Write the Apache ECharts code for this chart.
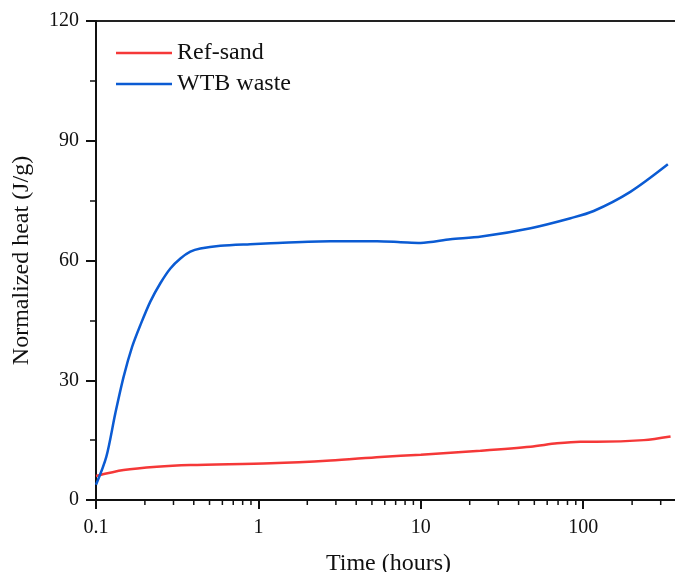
<!DOCTYPE html>
<html>
<head>
<meta charset="utf-8">
<script src="https://cdn.jsdelivr.net/npm/echarts@6/dist/echarts.min.js"></script>
<style>
  html, body { margin: 0; padding: 0; background: #fff; }
  #chart { width: 675px; height: 572px; }
</style>
</head>
<body>
<div id="chart"></div>
<script>
// Hydration heat curves, time on a log scale (hours)
const timeRef = [0.1, 0.148, 0.237, 0.381, 1.19, 2.78, 5.65, 10, 23.3, 47.4, 69, 96, 121, 236, 345];
const heatRef = [6.0, 7.5, 8.35, 8.77, 9.2, 9.9, 10.8, 11.35, 12.35, 13.35, 14.2, 14.6, 14.6, 15.0, 15.9];

const timeWtb = [0.1, 0.1157, 0.1315, 0.148, 0.167, 0.1875, 0.216, 0.249, 0.287, 0.331, 0.381, 0.439, 0.583, 0.89, 1.19, 2.78, 5.38, 7.5, 9.96, 15.2, 23.6, 47.4, 83.6, 116, 195, 332];
const heatWtb = [3.8, 10.8, 21.7, 30.9, 38.4, 43.8, 49.7, 54.3, 58.0, 60.5, 62.2, 63.0, 63.7, 64.1, 64.3, 64.8, 64.8, 64.6, 64.4, 65.3, 66.0, 68.1, 70.6, 72.4, 77.2, 84.1];

const seriesNames = ['Ref-sand', 'WTB waste'];
const majorTimeTicks = [0.1, 1, 10, 100];
const minorTimeTicks = [];
for (const decade of [0.1, 1, 10, 100]) {
  for (let m = 2; m <= 9; m++) minorTimeTicks.push(+(m * decade).toPrecision(3));
}

const serif = 'Liberation Serif';
const zip = (xs, ys) => xs.map((x, i) => [x, ys[i]]);

const chart = echarts.init(document.getElementById('chart'), null, { renderer: 'canvas' });
chart.setOption({
  animation: false,
  backgroundColor: '#fff',
  grid: {
    left: 96, top: 21, bottom: 72, right: -6,
    containLabel: false,
    outerBoundsMode: 'none',
    show: true, borderColor: '#222', borderWidth: 2, backgroundColor: 'transparent'
  },
  legend: {
    data: seriesNames,
    orient: 'vertical',
    left: 116, top: 41,
    padding: 0,
    icon: 'rect',
    itemWidth: 56, itemHeight: 2.5, itemGap: 7,
    textStyle: { fontFamily: serif, fontSize: 24, color: '#111', lineHeight: 24 }
  },
  xAxis: {
    type: 'log',
    logBase: 10,
    min: 0.1,
    max: 400,
    name: 'Time (hours)',
    nameLocation: 'middle',
    nameGap: 64,
    nameMoveOverlap: false,
    nameTextStyle: { fontFamily: serif, fontSize: 24, color: '#111', verticalAlign: 'middle' },
    axisLine: { lineStyle: { color: '#111', width: 2 } },
    axisTick: { show: true, inside: false, length: 9, lineStyle: { color: '#111', width: 2 } },
    axisLabel: {
      fontFamily: serif, fontSize: 20, color: '#111', margin: 18,
      formatter: v => {
        const hit = majorTimeTicks.find(t => Math.abs(t - v) / t < 1e-6);
        return hit === undefined ? '' : String(hit);
      }
    },
    splitLine: { show: false },
    minorTick: { show: false }
  },
  yAxis: {
    type: 'value',
    min: 0, max: 120, interval: 30,
    name: 'Normalized heat (J/g)',
    nameLocation: 'middle',
    nameGap: 74,
    nameMoveOverlap: false,
    nameTextStyle: { fontFamily: serif, fontSize: 24, color: '#111', verticalAlign: 'middle' },
    axisLine: { show: true, lineStyle: { color: '#111', width: 2 } },
    axisTick: { show: true, inside: false, length: 10, lineStyle: { color: '#111', width: 2 } },
    minorTick: { show: true, splitNumber: 2, length: 6, lineStyle: { color: '#111', width: 1.5 } },
    axisLabel: { fontFamily: serif, fontSize: 20, color: '#111', margin: 17 },
    splitLine: { show: false }
  },
  series: [
    {
      name: seriesNames[0], type: 'line', data: zip(timeRef, heatRef),
      symbol: 'none', smooth: 0.3,
      lineStyle: { color: '#f53838', width: 2.5 }, itemStyle: { color: '#f53838' }
    },
    {
      name: seriesNames[1], type: 'line', data: zip(timeWtb, heatWtb),
      symbol: 'none', smooth: 0.3,
      lineStyle: { color: '#0b5bd3', width: 2.5 }, itemStyle: { color: '#0b5bd3' }
    },
    {
      // log-axis minor ticks (2..9 within each decade)
      name: 'minorTicks', type: 'custom', silent: true, clip: false,
      data: minorTimeTicks.map(t => [t, 0]),
      renderItem: (params, api) => {
        const p = api.coord([api.value(0), 0]);
        return {
          type: 'line',
          shape: { x1: p[0], y1: p[1], x2: p[0], y2: p[1] + 5 },
          style: { stroke: '#111', lineWidth: 1.5 }
        };
      },
      z: 5
    }
  ]
});
</script>
</body>
</html>
